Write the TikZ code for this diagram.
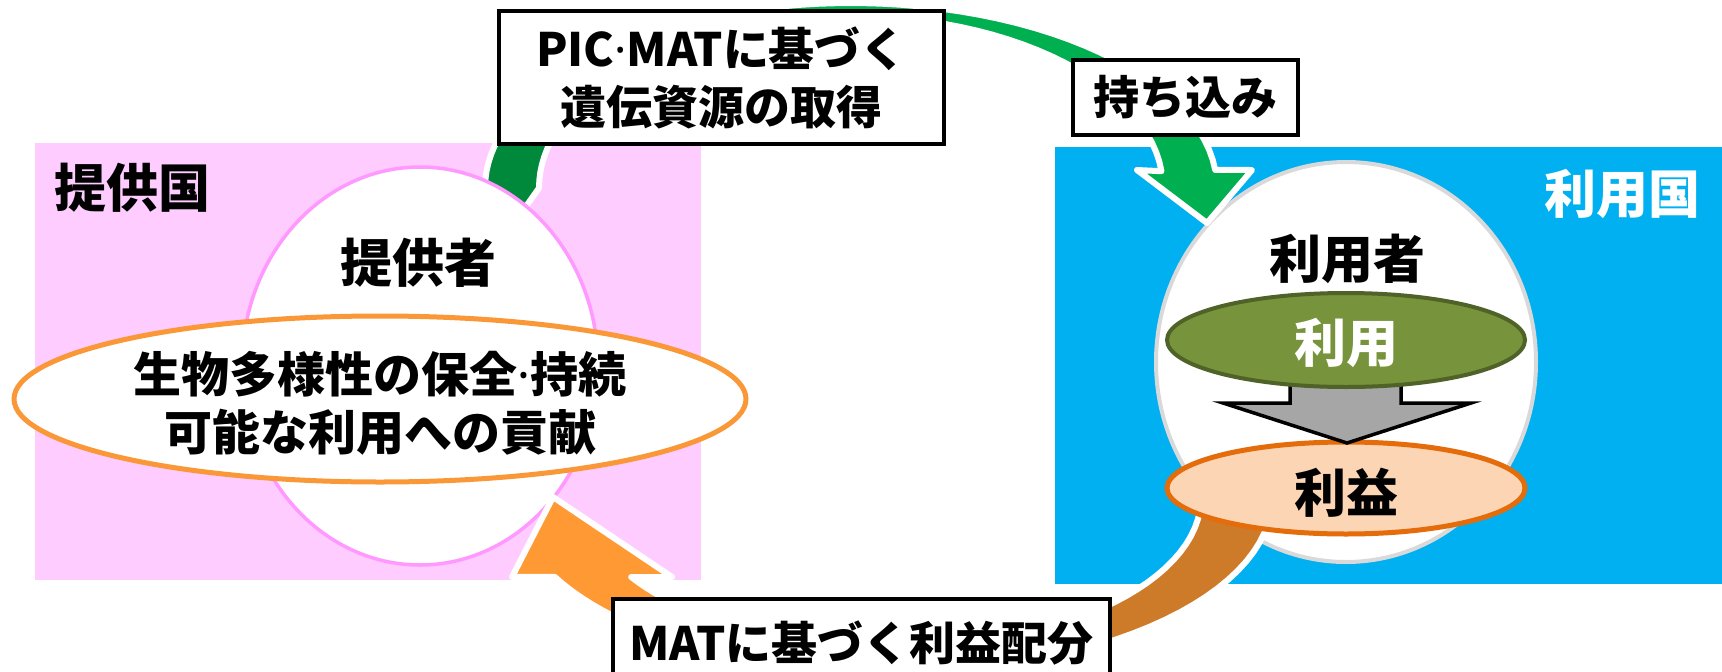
\documentclass[tikz,border=0pt]{standalone}
\usepackage{fontspec}
\setmainfont{Noto Sans CJK JP}
\newfontfamily\latinf{Noto Sans}
\newcommand{\mdot}{{\latinf\bfseries ·}}
\usetikzlibrary{shapes.geometric}
\definecolor{pinkbg}{RGB}{255,204,255}
\definecolor{pinkline}{RGB}{255,153,255}
\definecolor{bluebg}{RGB}{0,176,240}
\definecolor{grayline}{RGB}{217,217,217}
\definecolor{orline}{RGB}{250,152,55}
\definecolor{gdark}{RGB}{0,137,58}
\definecolor{gbright}{RGB}{0,176,80}
\definecolor{obright}{RGB}{255,153,51}
\definecolor{obrown}{RGB}{205,123,41}
\definecolor{olivefill}{RGB}{119,147,60}
\definecolor{oliveline}{RGB}{79,98,40}
\definecolor{peachfill}{RGB}{252,213,181}
\definecolor{peachline}{RGB}{228,108,10}
\definecolor{arrowgray}{RGB}{166,166,166}
\begin{document}
\begin{tikzpicture}[x=1pt,y=-1pt,
  box/.style={draw=black, line width=4pt, fill=white, inner sep=0pt, align=center,
    font=\fontsize{46pt}{58pt}\selectfont\bfseries},
  big/.style={inner sep=0pt, font=\fontsize{52pt}{60pt}\selectfont\bfseries},
  mid/.style={inner sep=0pt, align=center, font=\fontsize{48pt}{58pt}\selectfont\bfseries},
  oval/.style={ellipse, inner sep=0pt},
  band/.style={draw=white, line width=6pt, line join=round},
]
\useasboundingbox (0,0) rectangle (1722,672);
\clip (0,0) rectangle (1722,672);

% country areas
\fill[pinkbg] (35,143) rectangle (701,580);
\fill[bluebg] (1055,147) rectangle (1722,584);

% dark part of the acquisition arrow (behind the provider)
\filldraw[band, fill=gdark] (465,262)
  -- plot[domain=180:230, samples=20] ({851+366*cos(\x)},{188+185*sin(\x)})
  -- plot[domain=230:180, samples=20] ({851+312*cos(\x)},{188+172*sin(\x)})
  -- (527,205) -- (512,262) -- cycle;

% provider
\node[oval, draw=pinkline, line width=3.5pt, fill=white,
      minimum width=356pt, minimum height=398pt] (provider) at (420,366) {};
\node[oval, draw=orline, line width=5pt, fill=white,
      minimum width=732pt, minimum height=166pt] (contrib) at (380,399) {};

% benefit sharing arrow, bright part with head
\filldraw[band, fill=obright]
  plot[domain=90:153.2, samples=25] ({893+379*cos(\x)},{498+175*sin(\x)})
  -- (512,577) -- (553,497) -- (672,577)
  -- plot[domain=148.2:90, samples=25] ({893+308*cos(\x)},{498+150*sin(\x)})
  -- cycle;

% user
\node[oval, draw=grayline, line width=4pt, fill=white,
      minimum width=380pt, minimum height=400pt] (user) at (1346,362) {};

% benefit sharing arrow, brown part
\filldraw[band, fill=obrown]
  plot[domain=-5:90, samples=30] ({893+379*cos(\x)},{498+175*sin(\x)})
  -- plot[domain=90:-5, samples=30] ({893+308*cos(\x)},{498+150*sin(\x)})
  -- cycle;

% acquisition arrow, bright part with head
\filldraw[band, fill=gbright]
  plot[domain=230:354.4, samples=40] ({851+366*cos(\x)},{188+185*sin(\x)})
  -- (1252,170) -- (1207,223) -- (1137,170)
  -- plot[domain=354.4:230, samples=40] ({851+312*cos(\x)},{188+172*sin(\x)})
  -- cycle;

% inside user
\node[oval, draw=peachline, line width=5pt, fill=peachfill,
      minimum width=358pt, minimum height=92pt] (benefit) at (1346,488) {};
\draw[black, line width=3.5pt, fill=arrowgray, line join=miter]
  (1290,370) -- (1401,370) -- (1401,403) -- (1471,403) -- (1347,443)
  -- (1223,403) -- (1290,403) -- cycle;
\node[oval, draw=oliveline, line width=4pt, fill=olivefill,
      minimum width=358pt, minimum height=94pt] (use) at (1346,340) {};

% texts
\node[big] (provcountry) at (132,188) {提供国};
\node[big] (providertext) at (418,263) {提供者};
\node[mid] (contribtext) at (380,403) {生物多様性の保全\mdot 持続\\可能な利用への貢献};
\node[big, text=white] (usercountry) at (1622,194) {利用国};
\node[big] (usertext) at (1347,259) {利用者};
\node[big, text=white] (usetext) at (1346,343) {利用};
\node[big] (benefittext) at (1346,493) {利益};

% label boxes
\node[box, minimum width=445pt, minimum height=133pt] (acq) at (721.5,77.5)
  {PIC\mdot MATに基づく\\遺伝資源の取得};
\node[box, minimum width=225pt, minimum height=75pt] (bring) at (1185.5,97.5) {持ち込み};
\node[box, minimum width=497pt, minimum height=89pt] (share) at (861.5,643.5)
  {MATに基づく利益配分};
\end{tikzpicture}
\end{document}
